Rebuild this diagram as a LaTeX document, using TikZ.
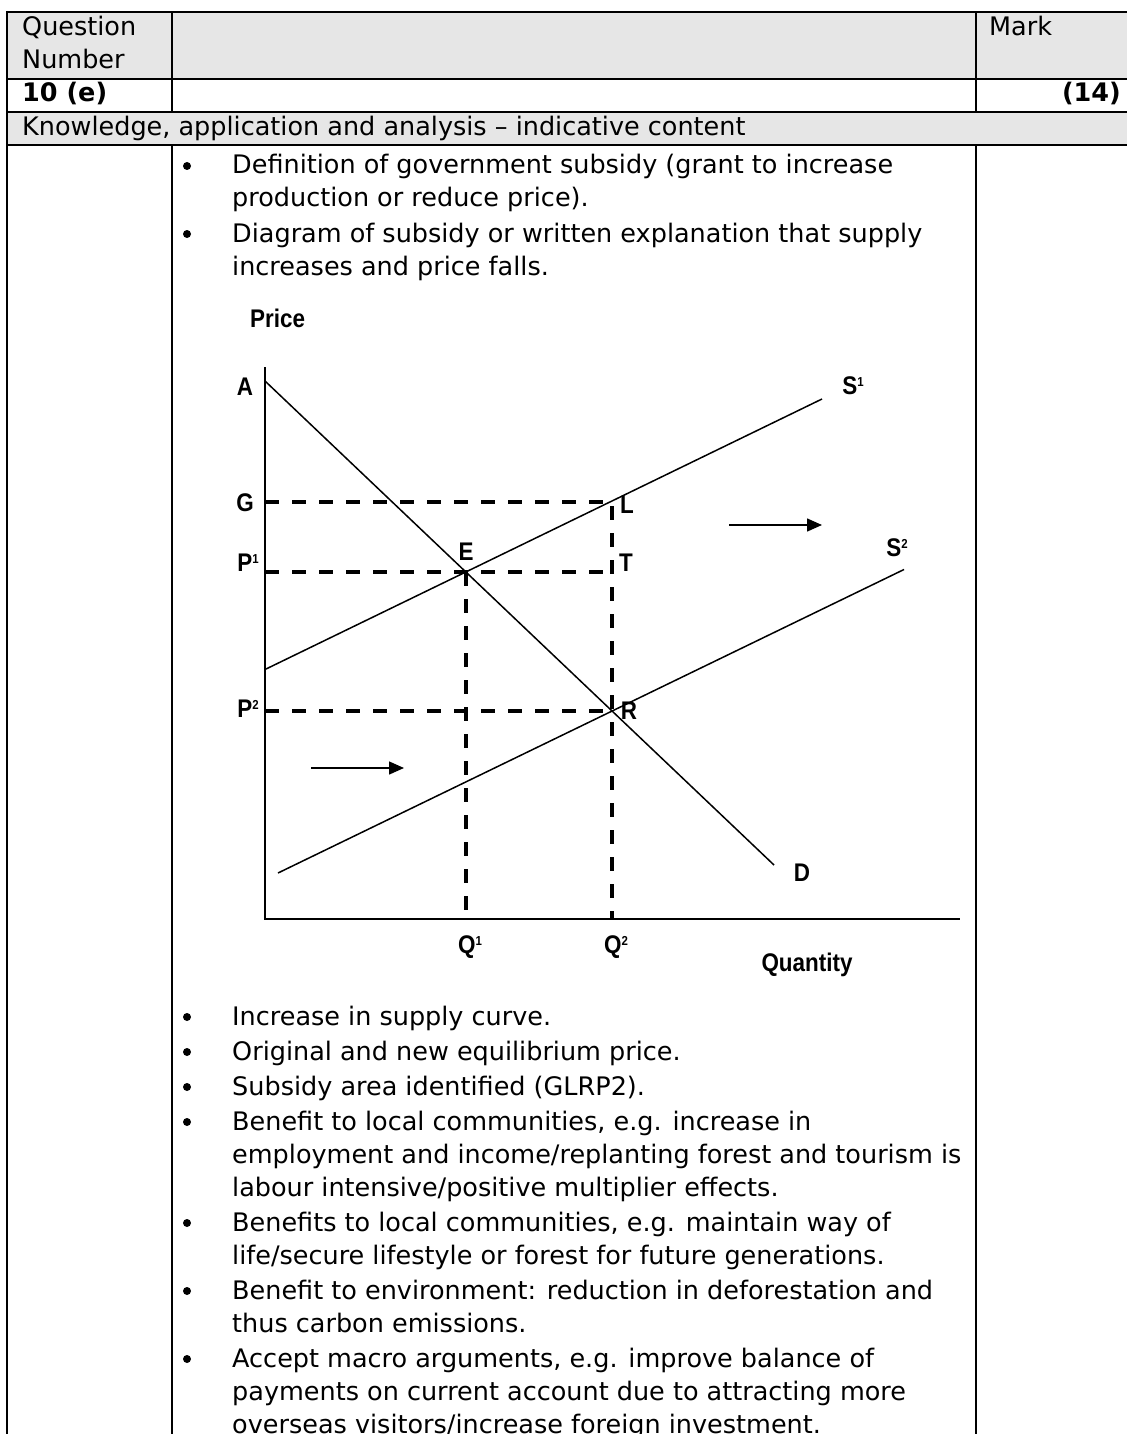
\documentclass[tikz,border=0pt]{standalone}
\usepackage{fontspec}
\setmainfont{DejaVu Sans}
\newfontfamily\labfont[FakeStretch=0.88]{Liberation Sans}
\usetikzlibrary{arrows.meta}
\newcommand\lsup[1]{\raisebox{8pt}{\fontsize{13}{13}\selectfont #1}}
\definecolor{hdr}{RGB}{230,230,230}
\begin{document}
\begin{tikzpicture}[x=1pt,y=-1pt,
  body/.style={anchor=base west, inner sep=0pt, font=\fontsize{25.5}{33}\selectfont},
  bodyb/.style={inner sep=0pt, font=\fontsize{25.5}{33}\selectfont\bfseries},
  lbl/.style={inner sep=0pt, font=\labfont\bfseries\fontsize{25.5}{25.5}\selectfont},
  thinline/.style={line width=1.5pt},
  dsh/.style={line width=3.5pt, dash pattern=on 14pt off 13pt},
  rule/.style={line width=2pt},
  bul/.style={circle, fill=black, inner sep=0pt, minimum size=8pt},
  arr/.style={line width=1.5pt, -{Triangle[length=15pt,width=13pt]}}]
\useasboundingbox (0,0) rectangle (1127,1434);
\clip (0,0) rectangle (1127,1434);
\fill[white] (0,0) rectangle (1127,1434);
% ---------- table ----------
\fill[hdr] (7,12) rectangle (1127,79);
\fill[hdr] (7,112) rectangle (1127,145);
\draw[rule] (7,12) -- (1127,12);
\draw[rule] (7,79) -- (1127,79);
\draw[rule] (7,112) -- (1127,112);
\draw[rule] (7,145) -- (1127,145);
\draw[rule] (7,11) -- (7,1434);
\draw[rule] (172,12) -- (172,112);
\draw[rule] (172,145) -- (172,1434);
\draw[rule] (976,12) -- (976,112);
\draw[rule] (976,145) -- (976,1434);
\node[body] (hq) at (22,36) {Question};
\node[body] (hn) at (22,69) {Number};
\node[body] (hm) at (989,36) {Mark};
\node[bodyb, anchor=base west] (qn) at (22,102) {10 (e)};
\node[bodyb, anchor=base east] (mk) at (1121,102) {(14)};
\node[body] (kn) at (22,136) {Knowledge, application and analysis – indicative content};
% ---------- top bullets ----------
\node[bul] (b1) at (187,166) {};
\node[body] (t1) at (232,174) {Definition of government subsidy (grant to increase};
\node[body] (t2) at (232,207) {production or reduce price).};
\node[bul] (b2) at (187,234) {};
\node[body] (t3) at (232,242) {Diagram of subsidy or written explanation that supply};
\node[body] (t4) at (232,275) {increases and price falls.};
% ---------- chart ----------
\coordinate (O) at (265,919);
\coordinate (Ytop) at (265,367);
\coordinate (Xend) at (960,919);
\coordinate (E) at (466,572);
\coordinate (L) at (612,502);
\coordinate (T) at (612,572);
\coordinate (R) at (612,711);
\coordinate (Gax) at (265,502);
\coordinate (P1ax) at (265,572);
\coordinate (P2ax) at (265,711);
\coordinate (Q1ax) at (466,919);
\coordinate (Q2ax) at (612,919);
\coordinate (Dstart) at (265,381);
\coordinate (Dend) at (774,865);
\coordinate (S1start) at (265,669.5);
\coordinate (S1end) at (822,399);
\coordinate (S2start) at (278,873);
\coordinate (S2end) at (904,569.5);
\coordinate (ua1) at (729,525);
\coordinate (ua2) at (822,525);
\coordinate (la1) at (311,768);
\coordinate (la2) at (404,768);
\draw[thinline] (Ytop) -- (O) -- (Xend);
\draw[thinline] (Dstart) -- (Dend);
\draw[thinline] (S1start) -- (S1end);
\draw[thinline] (S2start) -- (S2end);
\draw[dsh] (Gax) -- (L) -- (Q2ax);
\draw[dsh] (P1ax) -- (T);
\draw[dsh] (E) -- (Q1ax);
\draw[dsh] (P2ax) -- (R);
\draw[arr] (ua1) -- (ua2);
\draw[arr] (la1) -- (la2);
\node[lbl, anchor=west] (price) at (250,318) {Price};
\node[lbl] (nA) at (245,387) {A};
\node[lbl] (nS1) at (853,386) {S\lsup{1}};
\node[lbl] (nG) at (245,503) {G};
\node[lbl] (nL) at (627,505) {L};
\node[lbl] (nE) at (466,552) {E};
\node[lbl] (nP1) at (248,563) {P\lsup{1}};
\node[lbl] (nT) at (626,563) {T};
\node[lbl] (nS2) at (897,548) {S\lsup{2}};
\node[lbl] (nP2) at (248,709) {P\lsup{2}};
\node[lbl] (nR) at (629,711) {R};
\node[lbl] (nD) at (802,873) {D};
\node[lbl] (nQ1) at (470,947) {Q\lsup{1}};
\node[lbl] (nQ2) at (616,947) {Q\lsup{2}};
\node[lbl] (qty) at (807,965) {Quantity};
% ---------- bottom bullets ----------
\node[bul] (b3) at (187,1017) {};
\node[body] (u1) at (232,1025) {Increase in supply curve.};
\node[bul] (b4) at (187,1052) {};
\node[body] (u2) at (232,1060) {Original and new equilibrium price.};
\node[bul] (b5) at (187,1087) {};
\node[body] (u3) at (232,1095) {Subsidy area identified (GLRP2).};
\node[bul] (b6) at (187,1122) {};
\node[body] (u4) at (232,1130) {Benefit to local communities, e.g. increase in};
\node[body] (u5) at (232,1163) {employment and income/replanting forest and tourism is};
\node[body] (u6) at (232,1196) {labour intensive/positive multiplier effects.};
\node[bul] (b7) at (187,1223) {};
\node[body] (u7) at (232,1231) {Benefits to local communities, e.g. maintain way of};
\node[body] (u8) at (232,1264) {life/secure lifestyle or forest for future generations.};
\node[bul] (b8) at (187,1291) {};
\node[body] (u9) at (232,1299) {Benefit to environment: reduction in deforestation and};
\node[body] (u10) at (232,1332) {thus carbon emissions.};
\node[bul] (b9) at (187,1359) {};
\node[body] (u11) at (232,1367) {Accept macro arguments, e.g. improve balance of};
\node[body] (u12) at (232,1400) {payments on current account due to attracting more};
\node[body] (u13) at (232,1433) {overseas visitors/increase foreign investment.};
\end{tikzpicture}
\end{document}
